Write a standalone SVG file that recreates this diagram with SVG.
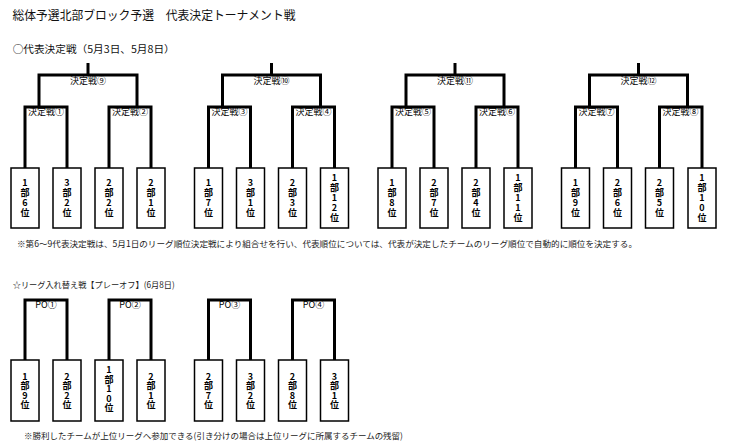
<svg xmlns="http://www.w3.org/2000/svg" width="730" height="448" viewBox="0 0 730 448">
<style>
.bg{fill:#fff}
.ln{fill:none;stroke:#000;stroke-width:3;stroke-linejoin:miter;stroke-linecap:butt}
.bx{fill:#fff;stroke:#000;stroke-width:1.5}
.lb{font-family:"Noto Sans CJK JP","Noto Sans",sans-serif;font-size:9px;text-anchor:middle;fill:#000}
.bt{font-family:"Noto Sans CJK JP","Noto Sans",sans-serif;font-size:9px;font-weight:bold;text-anchor:middle;fill:#000;writing-mode:vertical-rl;text-orientation:upright;letter-spacing:1px}
.po .bt{letter-spacing:0.5px}
.hd{font-family:"Noto Sans CJK JP","Noto Sans",sans-serif;fill:#111}
.nt{font-family:"Noto Sans CJK JP","Noto Sans",sans-serif;font-size:8.5px;fill:#222}
</style>
<rect class="bg" x="0" y="0" width="730" height="448"/>
<g id="titles">
<text class="hd" x="12.5" y="19.7" font-size="12.5" textLength="283" lengthAdjust="spacingAndGlyphs">総体予選北部ブロック予選　代表決定トーナメント戦</text>
<text class="hd" x="12.7" y="53" font-size="10" textLength="162" lengthAdjust="spacingAndGlyphs">○代表決定戦（5月3日、5月8日）</text>
<text class="nt" x="17" y="247.3" textLength="620" lengthAdjust="spacingAndGlyphs">※第6～9代表決定戦は、5月1日のリーグ順位決定戦により組合せを行い、代表順位については、代表が決定したチームのリーグ順位で自動的に順位を決定する。</text>
<text class="nt" x="12.7" y="288.3" font-size="8" textLength="162" lengthAdjust="spacingAndGlyphs">☆リーグ入れ替え戦【プレーオフ】(6月8日)</text>
<text class="nt" x="24" y="439.3" textLength="379" lengthAdjust="spacingAndGlyphs">※勝利したチームが上位リーグへ参加できる(引き分けの場合は上位リーグに所属するチームの残留)</text>
</g>
<g id="connectors">
<path class="ln" d="M88,63V75M39,107V75H137V107M25,168V107H67V168M109,168V107H151V168"/>
<path class="ln" d="M271.5,63V75M222.5,107V75H320.5V107M208.5,168V107H250.5V168M292.5,168V107H334.5V168"/>
<path class="ln" d="M455,63V75M406,107V75H504V107M392,168V107H434V168M476,168V107H518V168"/>
<path class="ln" d="M638.5,63V75M589.5,107V75H687.5V107M575.5,168V107H617.5V168M659.5,168V107H702V168"/>
<path class="ln" d="M25,360V300H67V360M109,360V300H151V360M208.5,360V300H250.5V360M292.5,360V300H334.5V360"/>
</g>
<g id="m9"><text class="lb" x="88" y="83.5">決定戦⑨</text></g>
<g id="m1"><text class="lb" x="46" y="115">決定戦①</text></g>
<g id="m2"><text class="lb" x="130" y="115">決定戦②</text></g>
<g id="m10"><text class="lb" x="271.5" y="83.5">決定戦⑩</text></g>
<g id="m3"><text class="lb" x="229.5" y="115">決定戦③</text></g>
<g id="m4"><text class="lb" x="313.5" y="115">決定戦④</text></g>
<g id="m11"><text class="lb" x="455" y="83.5">決定戦⑪</text></g>
<g id="m5"><text class="lb" x="413" y="115">決定戦⑤</text></g>
<g id="m6"><text class="lb" x="497" y="115">決定戦⑥</text></g>
<g id="m12"><text class="lb" x="638.5" y="83.5">決定戦⑫</text></g>
<g id="m7"><text class="lb" x="596.5" y="115">決定戦⑦</text></g>
<g id="m8"><text class="lb" x="680.5" y="115">決定戦⑧</text></g>
<g id="po1"><text class="lb" x="46" y="308">PO①</text></g>
<g id="po2"><text class="lb" x="130" y="308">PO②</text></g>
<g id="po3"><text class="lb" x="229.5" y="308">PO③</text></g>
<g id="po4"><text class="lb" x="313.5" y="308">PO④</text></g>

<g id="t1"><rect class="bx" x="11" y="168" width="28" height="60"/><text class="bt" x="25" y="198">1部6位</text></g>
<g id="t2"><rect class="bx" x="53" y="168" width="28" height="60"/><text class="bt" x="67" y="198">3部2位</text></g>
<g id="t3"><rect class="bx" x="95" y="168" width="28" height="60"/><text class="bt" x="109" y="198">2部2位</text></g>
<g id="t4"><rect class="bx" x="137" y="168" width="28" height="60"/><text class="bt" x="151" y="198">2部1位</text></g>
<g id="t5"><rect class="bx" x="194.5" y="168" width="28" height="60"/><text class="bt" x="208.5" y="198">1部7位</text></g>
<g id="t6"><rect class="bx" x="236.5" y="168" width="28" height="60"/><text class="bt" x="250.5" y="198">3部1位</text></g>
<g id="t7"><rect class="bx" x="278.5" y="168" width="28" height="60"/><text class="bt" x="292.5" y="198">2部3位</text></g>
<g id="t8"><rect class="bx" x="320.5" y="168" width="28" height="60"/><text class="bt" x="334.5" y="198">1部12位</text></g>
<g id="t9"><rect class="bx" x="378" y="168" width="28" height="60"/><text class="bt" x="392" y="198">1部8位</text></g>
<g id="t10"><rect class="bx" x="420" y="168" width="28" height="60"/><text class="bt" x="434" y="198">2部7位</text></g>
<g id="t11"><rect class="bx" x="462" y="168" width="28" height="60"/><text class="bt" x="476" y="198">2部4位</text></g>
<g id="t12"><rect class="bx" x="504" y="168" width="28" height="60"/><text class="bt" x="518" y="198">1部11位</text></g>
<g id="t13"><rect class="bx" x="561.5" y="168" width="28" height="60"/><text class="bt" x="575.5" y="198">1部9位</text></g>
<g id="t14"><rect class="bx" x="603.5" y="168" width="28" height="60"/><text class="bt" x="617.5" y="198">2部6位</text></g>
<g id="t15"><rect class="bx" x="645.5" y="168" width="28" height="60"/><text class="bt" x="659.5" y="198">2部5位</text></g>
<g id="t16"><rect class="bx" x="688" y="168" width="28" height="60"/><text class="bt" x="702" y="198">1部10位</text></g>
<g class="po">
<g id="p1"><rect class="bx" x="11" y="360" width="28" height="61"/><text class="bt" x="25" y="391">1部9位</text></g>
<g id="p2"><rect class="bx" x="53" y="360" width="28" height="61"/><text class="bt" x="67" y="391">2部2位</text></g>
<g id="p3"><rect class="bx" x="95" y="360" width="28" height="61"/><text class="bt" x="109" y="389">1部10位</text></g>
<g id="p4"><rect class="bx" x="137" y="360" width="28" height="61"/><text class="bt" x="151" y="391">2部1位</text></g>
<g id="p5"><rect class="bx" x="194.5" y="360" width="28" height="61"/><text class="bt" x="208.5" y="391">2部7位</text></g>
<g id="p6"><rect class="bx" x="236.5" y="360" width="28" height="61"/><text class="bt" x="250.5" y="391">3部2位</text></g>
<g id="p7"><rect class="bx" x="278.5" y="360" width="28" height="61"/><text class="bt" x="292.5" y="391">2部8位</text></g>
<g id="p8"><rect class="bx" x="320.5" y="360" width="28" height="61"/><text class="bt" x="334.5" y="391">3部1位</text></g>
</g>
</svg>
